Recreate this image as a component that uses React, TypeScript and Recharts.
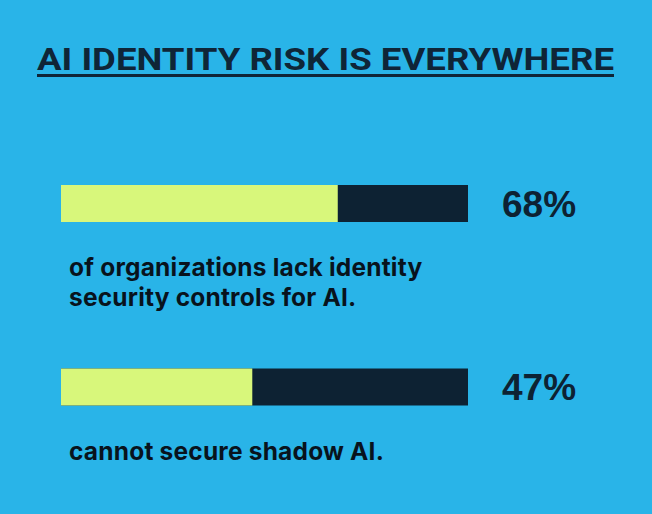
import { BarChart, Bar, XAxis, YAxis, LabelList } from 'recharts'

// values
const categories = ['lack identity controls', 'shadow AI']
const shares = [68, 47]
const shareLabels = ['68%', '47%']
const descriptions = [
  ['of organizations lack identity', 'security controls for AI.'],
  ['cannot secure shadow AI.'],
]

const data = categories.map((name, i) => ({ name, value: shares[i], label: shareLabels[i] }))

const BG = '#29b4e8'
const LIME = '#d8f77b'
const NAVY = '#0d2233'
const TITLE = 'AI IDENTITY RISK IS EVERYWHERE'

const Description = (props: any) => {
  const { x, y, height, index } = props
  const lines = descriptions[index] || []
  return (
    <g>
      {lines.map((line, i) => (
        <text
          key={i}
          x={x + 8}
          y={y + height + 54 + i * 30}
          fill="#08131d"
          fontSize={24.5}
          fontWeight={700}
          letterSpacing={0.2}
          fontFamily="Inter, Roboto, sans-serif"
        >
          {line}
        </text>
      ))}
    </g>
  )
}

export default function App() {
  return (
    <div style={{ position: 'absolute', left: 0, top: 0, width: 652, height: 514, background: BG }}>
      <svg width={652} height={110} style={{ position: 'absolute', left: 0, top: 0 }}>
        <text
          x={37}
          y={70}
          textLength={577}
          lengthAdjust="spacingAndGlyphs"
          fill="#0f2537"
          fontSize={31}
          fontWeight={700}
          fontFamily="Roboto, sans-serif"
        >
          {TITLE}
        </text>
        <rect x={37} y={74} width={577} height={3} fill="#0f2537" />
      </svg>
      <div style={{ position: 'absolute', left: 0, top: 0 }}>
        <BarChart
          width={652}
          height={514}
          data={data}
          layout="vertical"
          margin={{ top: 112, right: 0, bottom: 35, left: 61 }}
          barCategoryGap={0}
        >
          <XAxis type="number" domain={[0, 100]} hide />
          <YAxis yAxisId="left" type="category" dataKey="name" hide />
          <YAxis
            yAxisId="right"
            type="category"
            dataKey="label"
            orientation="right"
            width={184}
            axisLine={false}
            tickLine={false}
            tickMargin={28}
            tick={{ fill: NAVY, fontSize: 37, fontWeight: 700, fontFamily: "'Liberation Sans', Arial, sans-serif" }}
          />
          <Bar
            yAxisId="left"
            dataKey="value"
            fill={LIME}
            barSize={37}
            background={{ fill: NAVY }}
            isAnimationActive={false}
          >
            <LabelList dataKey="value" content={Description} />
          </Bar>
        </BarChart>
      </div>
    </div>
  )
}
